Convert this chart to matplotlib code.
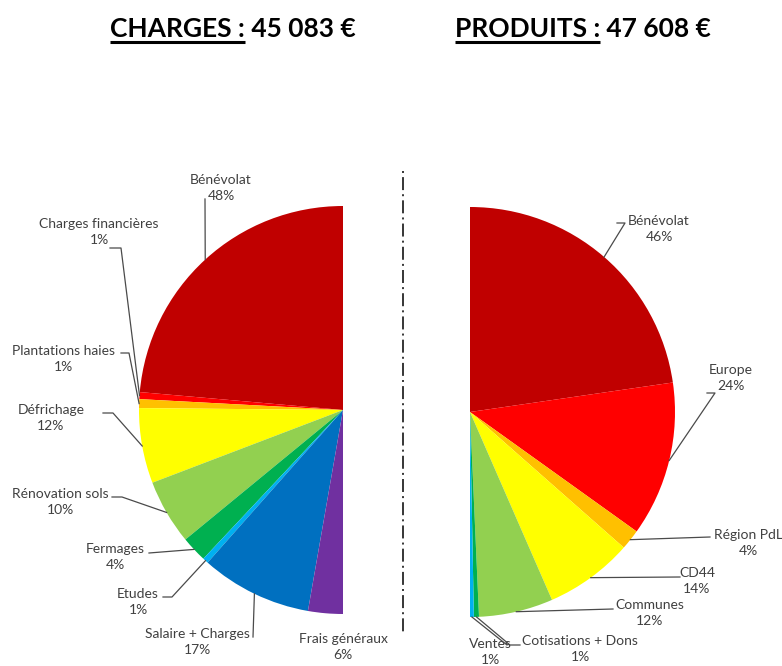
import numpy as np
import matplotlib
matplotlib.use("Agg")
import matplotlib.pyplot as plt

plt.rcParams['font.family'] = ['Lato', 'DejaVu Sans']

W, H = 782, 666

# CHARGES (share of the half-pie, %)
charges_labels = ["Bénévolat", "Charges financières", "Plantations haies", "Défrichage",
                  "Rénovation sols", "Fermages", "Etudes", "Salaire + Charges", "Frais généraux"]
charges_shares = [47.2, 1.1, 1.4, 11.9, 10.3, 4.1, 0.9, 17.6, 5.5]
charges_pct = ["48%", "1%", "1%", "12%", "10%", "4%", "1%", "17%", "6%"]
charges_colors = ["#C00000", "#FF0000", "#FFC000", "#FFFF00", "#92D050",
                  "#00B050", "#00B0F0", "#0070C0", "#7030A0"]

# PRODUITS
produits_labels = ["Bénévolat", "Europe", "Région PdL", "CD44", "Communes",
                   "Cotisations + Dons", "Ventes"]
produits_shares = [45.4, 24.4, 3.2, 13.9, 11.7, 0.8, 0.6]
produits_pct = ["46%", "24%", "4%", "14%", "12%", "1%", "1%"]
produits_colors = ["#C00000", "#FF0000", "#FFC000", "#FFFF00", "#92D050",
                   "#00B050", "#00B0F0"]

title_left = ("CHARGES :", " 45 083 €")
title_right = ("PRODUITS :", " 47 608 €")

# layout, in pixels from the top-left corner: label centre, leader points
charges_layout = [
    ((221, 188), [(205, 199)]),
    ((99, 232), [(110, 248), (121, 248)]),
    ((63, 359), [(121, 353), (129, 353)]),
    ((51, 418), [(103, 413), (113, 413)]),
    ((60, 502), [(112, 497), (122, 497)]),
    ((115, 557), [(149, 553)]),
    ((138, 602), [(163, 597), (172, 597)]),
    ((197, 642), [(253, 637)]),
    ((343, 647), None),
]
produits_layout = [
    ((659, 229), [(617, 223), (625, 223)]),
    ((731, 378), [(707, 393), (715, 393)]),
    ((748, 543), [(710, 537)]),
    ((697, 581), [(680, 577)]),
    ((650, 613), [(613, 609)]),
    ((580, 649), [(520, 645), (510, 645)]),
    ((490, 652), [(507, 645)]),
]

TXT = "#404040"


def py(y):
    return H - y


fig = plt.figure(figsize=(W / 100, H / 100), dpi=100)
ax = fig.add_axes([0, 0, 1, 1])


def half_pie(shares, colors, center, radius, counterclock):
    wedges, _ = ax.pie(np.array(shares) / 200.0, colors=colors, startangle=90,
                       counterclock=counterclock, normalize=False, frame=True,
                       center=(center[0], py(center[1])), radius=radius,
                       wedgeprops=dict(linewidth=0))
    return wedges


def add_labels(wedges, labels, pcts, layout, center, radius):
    for w, lab, pct, (tpos, leader) in zip(wedges, labels, pcts, layout):
        ax.text(tpos[0], py(tpos[1]), lab + "\n" + pct, ha="center", va="center",
                fontsize=10, color=TXT, linespacing=1.45)
        if leader is None:
            continue
        mid = np.deg2rad((w.theta1 + w.theta2) / 2.0)
        ex = center[0] + radius * np.cos(mid)
        ey = py(center[1]) + radius * np.sin(mid)
        xs = [p[0] for p in leader] + [ex]
        ys = [py(p[1]) for p in leader] + [ey]
        ax.plot(xs, ys, color="#4a4a4a", lw=0.9)


lc, lr = (343, 410), 204
rc, rr = (470, 412), 205
wl = half_pie(charges_shares, charges_colors, lc, lr, True)
wr = half_pie(produits_shares, produits_colors, rc, rr, False)
add_labels(wl, charges_labels, charges_pct, charges_layout, lc, lr)
add_labels(wr, produits_labels, produits_pct, produits_layout, rc, rr)

# dash-dot separator
ax.plot([403, 403], [py(171), py(633)], color="black", lw=1.1,
        linestyle=(0, (1.3, 2.7, 8.5, 2.7)), solid_capstyle="butt")

ax.set_xlim(0, W)
ax.set_ylim(0, H)
ax.set_axis_off()

# titles with underlined first part
fig.canvas.draw()
renderer = fig.canvas.get_renderer()
for (head, value), x0 in [(title_left, 110), (title_right, 455)]:
    t1 = ax.text(x0, py(37), head, fontsize=19, fontweight="bold", color="black",
                 ha="left", va="baseline")
    bb = t1.get_window_extent(renderer)
    ax.text(bb.x1, py(37), value, fontsize=19, fontweight="bold", color="black",
            ha="left", va="baseline")
    ax.plot([bb.x0, bb.x1], [py(41.5), py(41.5)], color="black", lw=2.2,
            solid_capstyle="butt")

fig.savefig("out.png", dpi=100)
